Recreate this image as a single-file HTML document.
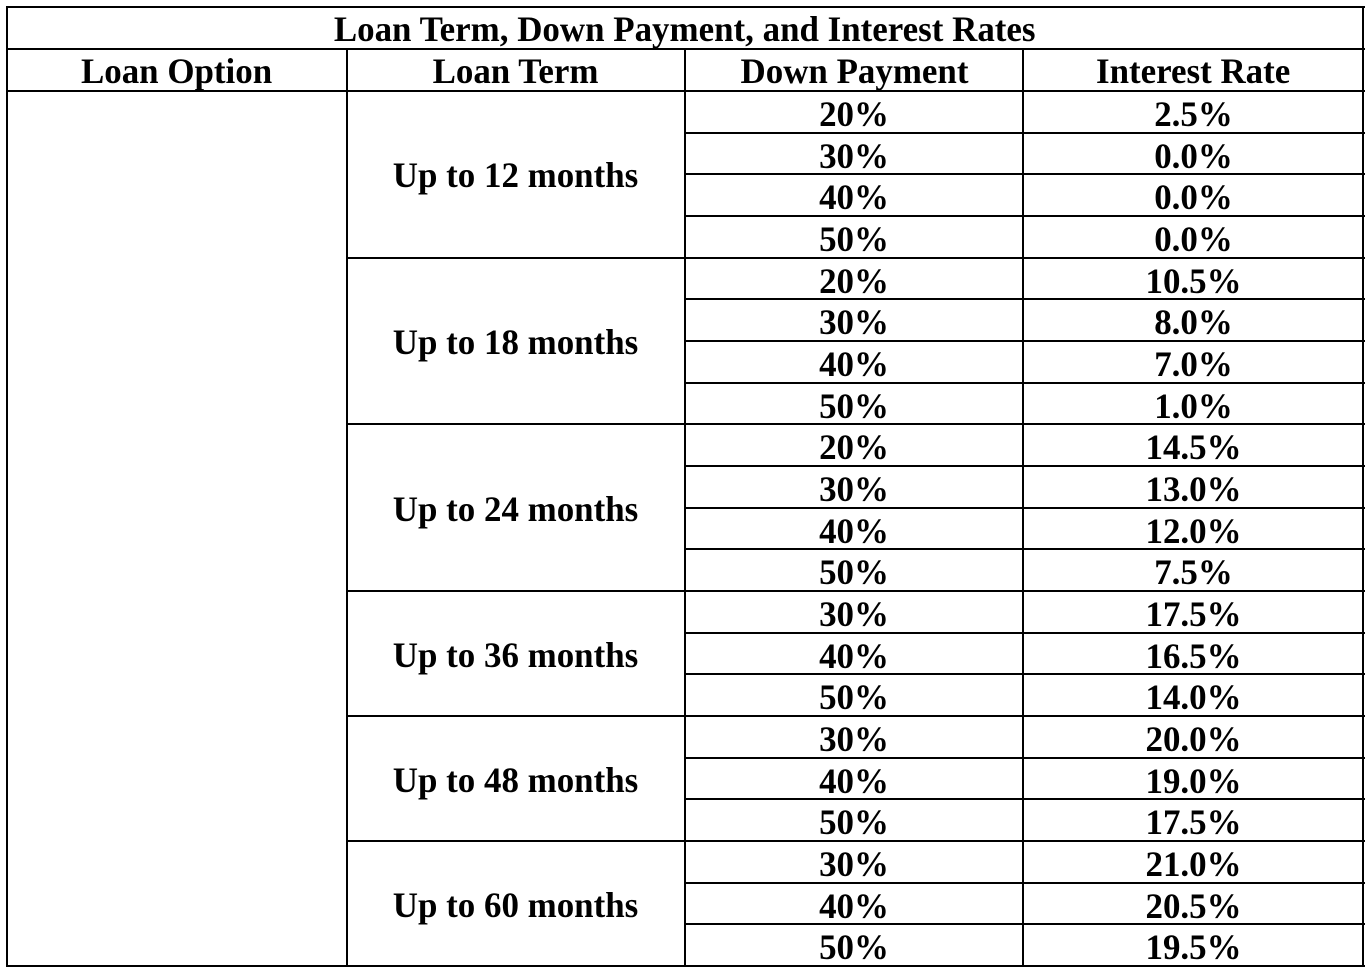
<!DOCTYPE html>
<html><head><meta charset="utf-8"><style>
body{margin:0;width:1368px;height:972px;background:#fff;position:relative;overflow:hidden;font-family:"Liberation Serif",serif;font-weight:bold;font-size:36px;color:#000}
.h{position:absolute;height:2px;background:#000}
.v{position:absolute;width:2px;background:#000}
.t{position:absolute;text-align:center;line-height:1;white-space:nowrap}
.t span{display:inline-block;transform:scaleX(0.97)}
</style></head><body>
<div id="c"></div>
<script>
var c=document.getElementById('c'),h='';
function H(x1,x2,y){h+='<div class="h" style="left:'+x1+'px;width:'+(x2-x1+2)+'px;top:'+(y-1)+'px"></div>';}
function V(x,y1,y2){h+='<div class="v" style="left:'+(x-1)+'px;top:'+(y1-1)+'px;height:'+(y2-y1+2)+'px"></div>';}
function T(x1,x2,y1,y2,s){h+='<div class="t" style="left:'+x1+'px;width:'+(x2-x1)+'px;top:'+((y1+y2)/2-17)+'px"><span>'+s+'</span></div>';}
var L=7,R=1363,cols=[7,347,685,1023,1363];
H(L,R,7);H(L,R,49);H(L,R,91);
V(L,7,966);V(R,7,966);
V(347,49,966);V(685,49,966);V(1023,49,966);
T(L,R,7,49,'Loan Term, Down Payment, and Interest Rates');
var hd=['Loan Option','Loan Term','Down Payment','Interest Rate'];
for(var i=0;i<4;i++)T(cols[i],cols[i+1],49,91,hd[i]);
var groups=[['Up to 12 months',['20%','30%','40%','50%'],['2.5%','0.0%','0.0%','0.0%']],
['Up to 18 months',['20%','30%','40%','50%'],['10.5%','8.0%','7.0%','1.0%']],
['Up to 24 months',['20%','30%','40%','50%'],['14.5%','13.0%','12.0%','7.5%']],
['Up to 36 months',['30%','40%','50%'],['17.5%','16.5%','14.0%']],
['Up to 48 months',['30%','40%','50%'],['20.0%','19.0%','17.5%']],
['Up to 60 months',['30%','40%','50%'],['21.0%','20.5%','19.5%']]];
var rh=875/21,r=0;
groups.forEach(function(g){
 var y0=91+r*rh;
 for(var k=0;k<g[1].length;k++){
  var a=91+r*rh,b=a+rh;
  T(685,1023,a+1,b+1,g[1][k]);T(1023,1363,a+1,b+1,g[2][k]);
  r++;
  H(685,1363,Math.round(91+r*rh));
 }
 var y1=91+r*rh;
 H(347,685,Math.round(y1));
 T(347,685,y0,y1,g[0]);
});
H(L,R,966);
c.innerHTML=h;
</script>
</body></html>
